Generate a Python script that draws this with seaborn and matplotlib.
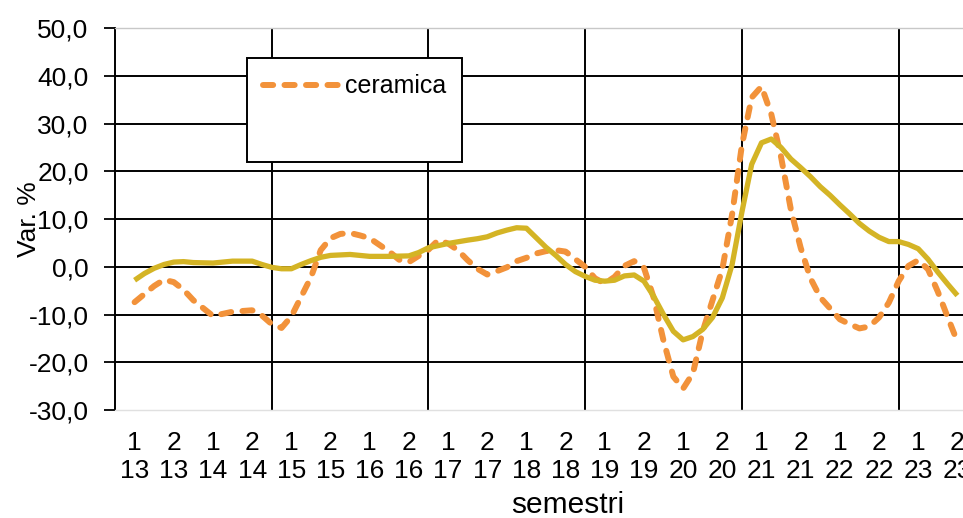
import matplotlib
matplotlib.use("Agg")
import matplotlib.pyplot as plt
from matplotlib.lines import Line2D
import seaborn as sns
import pandas as pd

# ---- data ----
semesters = ["1", "2"] * 11
years = [str(y) for y in range(13, 24) for _ in range(2)]
x_labels = [f"{s}\n{y}" for s, y in zip(semesters, years)]

# positions along the category axis (category index units) and values
pos_ceramica = [0, 0.5, 0.75, 1, 1.25, 1.5, 2, 2.5, 3, 3.25, 3.5, 3.75, 4,
                4.25, 4.5, 4.75, 5, 5.25, 5.5, 5.75, 6, 6.25, 6.5, 6.75, 7,
                7.25, 7.5, 7.75, 8, 8.25, 8.5, 8.75, 9, 9.25, 9.5, 9.75, 10,
                10.25, 10.5, 10.75, 11, 11.25, 11.5, 11.75, 12, 12.25, 12.5,
                12.75, 13, 13.25, 13.5, 13.75, 14, 14.25, 14.5, 14.75, 15,
                15.25, 15.5, 15.75, 16, 16.25, 16.5, 16.75, 17, 17.25, 17.5,
                17.75, 18, 18.25, 18.5, 18.75, 19, 19.25, 19.5, 19.75, 20,
                20.25, 20.5, 20.75, 21]
ceramica = [-7.4, -4.0, -2.7, -3.2, -4.8, -7.0, -10.3, -9.4, -9.1, -10.2,
            -12.0, -12.8, -10.4, -6.3, -2.2, 3.5, 6.0, 6.9, 7.1, 6.6, 6.0,
            4.6, 3.2, 1.5, 1.0, 2.3, 3.6, 5.6, 4.9, 3.5, 1.4, -0.4, -1.6,
            -0.9, -0.1, 1.2, 1.9, 2.8, 3.3, 3.5, 3.2, 1.6, 0.0, -2.4, -3.5,
            -2.1, 0.2, 1.2, -0.2, -6.5, -15.5, -23.0, -25.5, -22.3, -13.5,
            -7.0, -0.5, 11.0, 25.5, 35.5, 37.8, 32.0, 23.0, 12.0, 4.0, -2.4,
            -6.4, -8.7, -11.0, -12.0, -12.9, -12.5, -10.6, -7.5, -3.0, 0.2,
            1.4, -0.5, -5.2, -10.5, -15.7]

pos_seconda = [0, 0.25, 0.5, 0.75, 1, 1.25, 1.5, 2, 2.5, 3, 3.25, 3.5, 3.75,
               4, 4.25, 4.5, 4.75, 5, 5.5, 6, 6.5, 7, 7.25, 7.5, 8, 8.5, 8.75,
               9, 9.25, 9.5, 9.75, 10, 10.25, 10.5, 10.75, 11, 11.25, 11.5,
               11.75, 12, 12.25, 12.5, 12.75, 13, 13.25, 13.5, 13.75, 14,
               14.25, 14.5, 14.75, 15, 15.25, 15.5, 15.75, 16, 16.25, 16.5,
               16.75, 17, 17.25, 17.5, 17.75, 18, 18.25, 18.5, 18.75, 19,
               19.25, 19.5, 19.75, 20, 20.25, 20.5, 20.75, 21]
seconda = [-2.8, -1.4, -0.3, 0.5, 1.0, 1.1, 0.9, 0.8, 1.2, 1.2, 0.5, -0.1,
           -0.4, -0.4, 0.5, 1.3, 2.0, 2.4, 2.6, 2.2, 2.2, 2.3, 3.0, 4.0, 4.9,
           5.6, 5.9, 6.3, 7.1, 7.7, 8.2, 8.1, 6.1, 4.1, 2.4, 0.5, -1.0, -2.0,
           -2.8, -3.0, -2.8, -1.9, -1.7, -3.0, -6.2, -10.0, -13.5, -15.3,
           -14.6, -13.1, -10.6, -6.5, 0.5, 11.5, 21.5, 26.0, 26.8, 25.0,
           22.6, 20.8, 18.9, 16.8, 15.0, 13.0, 11.1, 9.1, 7.5, 6.2, 5.3, 5.3,
           4.7, 3.8, 1.6, -1.1, -3.6, -6.0]

y_ticks = [-30, -20, -10, 0, 10, 20, 30, 40, 50]
y_tick_labels = ["-30,0", "-20,0", "-10,0", "0,0", "10,0", "20,0", "30,0",
                 "40,0", "50,0"]

# ---- style ----
sns.set_style("white")
plt.rcParams["font.family"] = ["Liberation Sans", "DejaVu Sans"]
plt.rcParams["text.color"] = "black"
plt.rcParams["axes.labelcolor"] = "black"
plt.rcParams["xtick.color"] = "black"
plt.rcParams["ytick.color"] = "black"

W, H = 963, 518
fig = plt.figure(figsize=(W / 100, H / 100), dpi=100)
left_px, right_px, top_px, bottom_px = 115, 977, 28.3, 410
ax_w = right_px - left_px
ax_h = bottom_px - top_px
ax = fig.add_axes([left_px / W, 1 - bottom_px / H, ax_w / W, ax_h / H])

df_c = pd.DataFrame({"u": pos_ceramica, "v": ceramica})
df_s = pd.DataFrame({"u": pos_seconda, "v": seconda})

orange = "#F2923A"
olive = "#D4B425"
dash = (0, (1.7, 1.9))

sns.lineplot(data=df_c, x="u", y="v", ax=ax, color=orange,
             linewidth=4.3, linestyle=dash,
             dash_capstyle="round", dash_joinstyle="round", zorder=3)
sns.lineplot(data=df_s, x="u", y="v", ax=ax, color=olive,
             linewidth=3.8, solid_capstyle="butt", solid_joinstyle="round",
             zorder=4)

# axes
ax.set_xlim(-0.5, 21.5)
ax.set_ylim(-30, 50)
ax.set_yticks(y_ticks)
ax.set_yticklabels(y_tick_labels)
ax.set_xticks(range(len(x_labels)))
ax.set_xticklabels(x_labels, linespacing=1.2)
ax.set_xticks([3.5, 7.5, 11.5, 15.5, 19.5], minor=True)

ax.tick_params(axis="x", which="both", length=0, pad=15, labelsize=19,
               colors="black")
ax.tick_params(axis="y", which="major", length=8, width=1.3, direction="out",
               pad=11, labelsize=19, colors="black", left=True)

ax.grid(False)
ax.yaxis.grid(True, color="black", linewidth=1.4)
ax.xaxis.grid(True, which="minor", color="black", linewidth=1.4)
gl = ax.yaxis.get_gridlines()
gl[0].set_visible(False)
gl[-1].set_visible(False)

ax.spines["right"].set_visible(False)
ax.spines["left"].set_color("black")
ax.spines["left"].set_linewidth(1.4)
ax.spines["top"].set_color("#C8C8C8")
ax.spines["top"].set_linewidth(1.0)
ax.spines["bottom"].set_color("#E0E0E0")
ax.spines["bottom"].set_linewidth(1.0)

ax.set_xlabel("semestri", fontsize=21.5)
ax.xaxis.set_label_coords((568 - left_px) / ax_w, (bottom_px - 491) / ax_h)
ax.set_ylabel("Var. %", fontsize=19)
ax.yaxis.set_label_coords((41 - left_px) / ax_w, 0.5)

# legend (second series has an empty entry, as in the reference)
h1 = Line2D([], [], color=orange, linewidth=4.3, linestyle=dash,
            dash_capstyle="round")
h2 = Line2D([], [], color="none")
leg = ax.legend([h1, h2], ["ceramica", " "], loc="upper left",
                bbox_to_anchor=(247 / W, 1 - 58 / H),
                bbox_transform=fig.transFigure, borderaxespad=0,
                fontsize=18, frameon=True, fancybox=False, framealpha=1,
                edgecolor="black", handlelength=3.0, handletextpad=0.25,
                borderpad=0.65, labelspacing=0.95)
leg.get_frame().set_linewidth(1.4)
leg.set_zorder(10)

fig.savefig("out.png", dpi=100)
